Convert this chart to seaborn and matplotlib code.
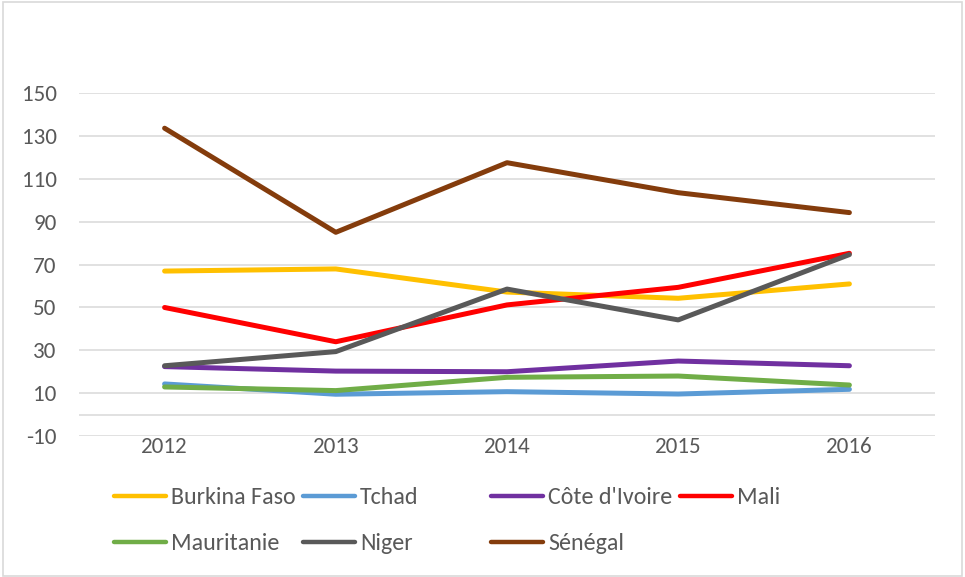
import pandas as pd
import seaborn as sns
import matplotlib.pyplot as plt
from matplotlib.patches import Rectangle

# values
years = ["2012", "2013", "2014", "2015", "2016"]
countries = ["Burkina Faso", "Tchad", "Côte d'Ivoire", "Mali",
             "Mauritanie", "Niger", "Sénégal"]
burkina = [67.0, 68.0, 57.2, 54.3, 61.0]
tchad = [14.3, 9.5, 10.7, 9.6, 11.8]
cote_ivoire = [22.4, 20.3, 20.0, 25.0, 22.8]
mali = [50.0, 34.0, 51.2, 59.4, 75.3]
mauritanie = [12.9, 11.2, 17.4, 18.0, 13.8]
niger = [22.8, 29.4, 58.6, 44.2, 74.7]
senegal = [133.7, 85.1, 117.6, 103.6, 94.3]
colors = ["#FFC000", "#5B9BD5", "#7030A0", "#FF0000",
          "#70AD47", "#595959", "#843C0C"]

series = [burkina, tchad, cote_ivoire, mali, mauritanie, niger, senegal]
rows = []
for name, vals in zip(countries, series):
    for y, v in zip(years, vals):
        rows.append({"year": y, "country": name, "value": v})
df = pd.DataFrame(rows)

sns.set_theme(style="white")
plt.rcParams["font.family"] = ["Carlito", "Lato", "DejaVu Sans"]
plt.rcParams["axes.unicode_minus"] = False
grey = "#595959"

fig = plt.figure(figsize=(9.65, 5.77), dpi=100)
ax = fig.add_axes([79 / 965, 1 - 436 / 577, (935 - 79) / 965, (436 - 93.3) / 577])

sns.lineplot(data=df, x="year", y="value", hue="country", hue_order=countries,
             palette=colors, linewidth=3.6, sort=False, legend=False, ax=ax,
             solid_capstyle="round")

ax.set_xlim(-0.5, 4.5)
ax.set_ylim(-10, 150)
ax.set_yticks(range(-10, 151, 20))
ax.grid(axis="y", color="#D9D9D9", linewidth=1.1)
ax.axhline(0, color="#D9D9D9", linewidth=1.1, zorder=0.5)
ax.set_axisbelow(True)
for s in ax.spines.values():
    s.set_visible(False)
ax.tick_params(axis="y", length=0, pad=16, labelsize=16.6, labelcolor=grey)
ax.tick_params(axis="x", length=0, pad=1, labelsize=16.6, labelcolor=grey)
ax.set_xlabel("")
ax.set_ylabel("")

# legend: Excel-like grid of 4 evenly spaced columns, 2 rows
lines = ax.get_lines()[:len(countries)]
col_x = [114, 303, 491, 680]
for c, x in enumerate(col_x):
    idx = [i for i in (c, c + 4) if i < len(countries)]
    leg = fig.legend([lines[i] for i in idx], [countries[i] for i in idx],
                     loc="upper left", bbox_to_anchor=(x / 965, 1 - 487.5 / 577),
                     frameon=False, borderpad=0, borderaxespad=0,
                     handlelength=2.17, handletextpad=0.2, labelspacing=1.04,
                     prop={"size": 17.3}, labelcolor=grey)
    for h in leg.get_lines():
        h.set_linewidth(3.2)

# light outer border of the chart area
fig.patches.append(Rectangle((3 / 965, 1 / 577), 959 / 965, 574 / 577,
                             transform=fig.transFigure, fill=False,
                             edgecolor="#D9D9D9", linewidth=1.2))

fig.savefig("out.png", dpi=100)
